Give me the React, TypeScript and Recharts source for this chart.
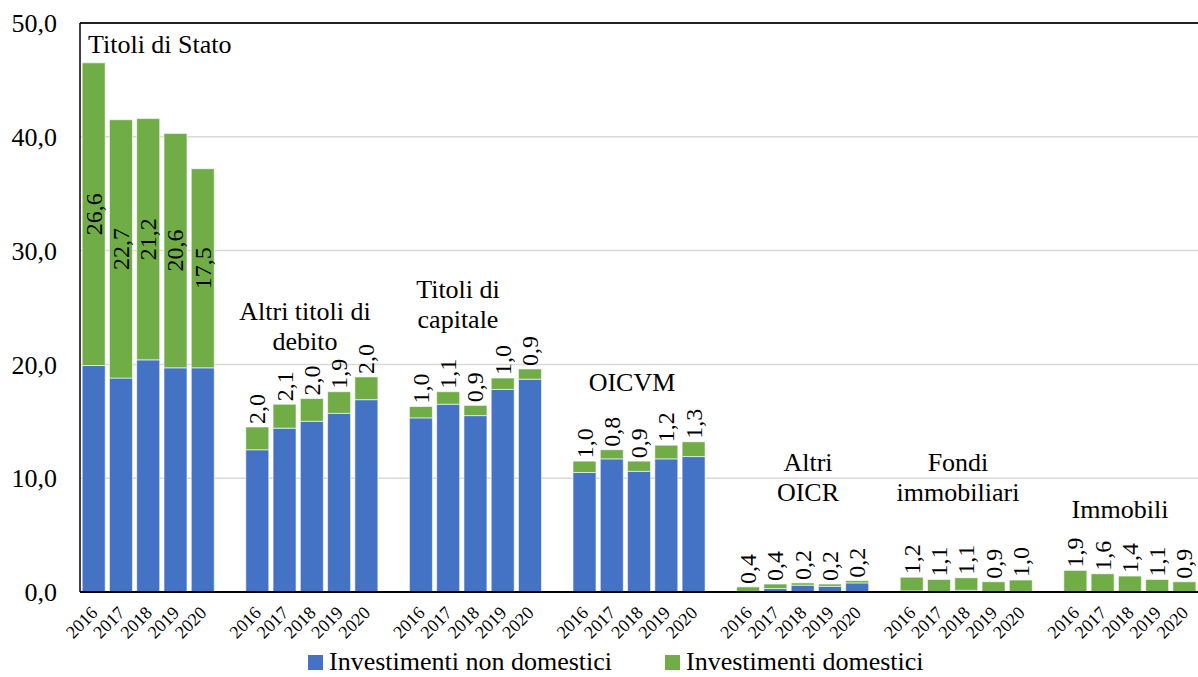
import {
  BarChart,
  Bar,
  XAxis,
  YAxis,
  CartesianGrid,
  ReferenceLine,
  LabelList,
  Legend,
} from 'recharts';

const YEARS = ['2016', '2017', '2018', '2019', '2020'];

const GROUPS = [
  'Titoli di Stato',
  'Altri titoli di debito',
  'Titoli di capitale',
  'OICVM',
  'Altri OICR',
  'Fondi immobiliari',
  'Immobili',
];

// investimenti non domestici, per gruppo e anno
const NON_DOMESTIC = [
  [19.9, 18.8, 20.4, 19.7, 19.7],
  [12.5, 14.4, 15.0, 15.7, 16.9],
  [15.3, 16.5, 15.5, 17.8, 18.7],
  [10.5, 11.7, 10.6, 11.7, 11.9],
  [0.05, 0.3, 0.6, 0.5, 0.8],
  [0.1, 0.0, 0.15, 0.0, 0.05],
  [0, 0, 0, 0, 0],
];

// investimenti domestici (valori etichettati)
const DOMESTIC = [
  [26.6, 22.7, 21.2, 20.6, 17.5],
  [2.0, 2.1, 2.0, 1.9, 2.0],
  [1.0, 1.1, 0.9, 1.0, 0.9],
  [1.0, 0.8, 0.9, 1.2, 1.3],
  [0.4, 0.4, 0.2, 0.2, 0.2],
  [1.2, 1.1, 1.1, 0.9, 1.0],
  [1.9, 1.6, 1.4, 1.1, 0.9],
];

const Y_TICKS = [0, 10, 20, 30, 40, 50];

const FONT = '"Liberation Serif", "Times New Roman", serif';
const BLUE = '#4472C4';
const GREEN = '#70AD47';

type Row = { key: string; year: string; nonDom: number | null; dom: number | null };

const rows: Row[] = [];
GROUPS.forEach((g, gi) => {
  YEARS.forEach((yr, yi) => {
    rows.push({ key: `${gi}-${yr}`, year: yr, nonDom: NON_DOMESTIC[gi][yi], dom: DOMESTIC[gi][yi] });
  });
  if (gi < GROUPS.length - 1) {
    rows.push({ key: `gap-${gi}`, year: '', nonDom: null, dom: null });
  }
});

const yearByKey: Record<string, string> = {};
rows.forEach((r) => (yearByKey[r.key] = r.year));

const fmt = (v: number) => v.toFixed(1).replace('.', ',');

const renderDomLabel = (props: any) => {
  const { x, y, width, height, value } = props;
  if (value == null) return null;
  const cx = Number(x) + Number(width) / 2;
  const inside = Number(height) > 60;
  const ty = inside ? Number(y) + Number(height) / 2 : Number(y) - 3;
  return (
    <text
      x={cx}
      y={ty}
      transform={`rotate(-90 ${cx} ${ty})`}
      textAnchor={inside ? 'middle' : 'start'}
      dominantBaseline="central"
      style={{ fontFamily: FONT, fontSize: 24 }}
      fill="#000"
    >
      {fmt(value)}
    </text>
  );
};

const YearTick = (props: any) => {
  const { x, y, payload } = props;
  const label = yearByKey[payload.value];
  if (!label) return <g />;
  const tx = x + 5;
  const ty = y + 14;
  return (
    <text
      x={tx}
      y={ty}
      transform={`rotate(-45 ${tx} ${ty})`}
      textAnchor="end"
      style={{ fontFamily: FONT, fontSize: 18 }}
      fill="#000"
    >
      {label}
    </text>
  );
};

const LegendContent = () => (
  <div style={{ position: 'relative', height: 30, fontFamily: FONT, fontSize: 26, lineHeight: '30px' }}>
    <div style={{ position: 'absolute', left: 308, top: 0, display: 'flex', alignItems: 'center' }}>
      <span style={{ width: 15, height: 15, background: BLUE, display: 'inline-block', marginRight: 6 }} />
      <span>Investimenti non domestici</span>
    </div>
    <div style={{ position: 'absolute', left: 665, top: 0, display: 'flex', alignItems: 'center' }}>
      <span style={{ width: 15, height: 15, background: GREEN, display: 'inline-block', marginRight: 6 }} />
      <span>Investimenti domestici</span>
    </div>
  </div>
);

// titoli dei gruppi
const TITLES = [
  { lines: ['Titoli di Stato'], left: 88, top: 30, align: 'left' as const },
  { lines: ['Altri titoli di', 'debito'], cx: 305, top: 297 },
  { lines: ['Titoli di', 'capitale'], cx: 458, top: 275 },
  { lines: ['OICVM'], cx: 632, top: 368 },
  { lines: ['Altri', 'OICR'], cx: 808, top: 448 },
  { lines: ['Fondi', 'immobiliari'], cx: 958, top: 448 },
  { lines: ['Immobili'], cx: 1120, top: 495 },
];

const App = () => {
  return (
    <div style={{ position: 'absolute', left: 0, top: 0, width: 1198, height: 677, background: '#fff' }}>
      <BarChart
        width={1198}
        height={677}
        data={rows}
        margin={{ top: 23, right: 0, left: 0, bottom: 0 }}
        barCategoryGap="8%"
      >
        <CartesianGrid vertical={false} stroke="#d9d9d9" strokeWidth={1.5} />
        <XAxis
          dataKey="key"
          interval={0}
          tickLine={false}
          axisLine={{ stroke: '#000', strokeWidth: 2 }}
          tick={<YearTick />}
          height={55}
        />
        <YAxis
          domain={[0, 50]}
          ticks={Y_TICKS}
          tickFormatter={fmt}
          tickLine={false}
          tickSize={0}
          tickMargin={23}
          axisLine={{ stroke: '#000', strokeWidth: 1.5 }}
          tick={{ fill: '#000', fontSize: 26, fontFamily: FONT }}
          width={80}
        />
        <ReferenceLine y={50} stroke="#222" strokeWidth={2} />
        <Bar dataKey="nonDom" stackId="a" fill={BLUE} stroke="#ffffff" strokeOpacity={0.6} strokeWidth={1} isAnimationActive={false} />
        <Bar dataKey="dom" stackId="a" fill={GREEN} stroke="#ffffff" strokeOpacity={0.6} strokeWidth={1} isAnimationActive={false}>
          <LabelList dataKey="dom" content={renderDomLabel} />
        </Bar>
        <Legend verticalAlign="bottom" height={30} content={<LegendContent />} wrapperStyle={{ left: 0, width: 1198 }} />
      </BarChart>
      {TITLES.map((t, i) => (
        <div
          key={i}
          style={{
            position: 'absolute',
            top: t.top,
            left: t.align === 'left' ? t.left : (t.cx as number) - 100,
            width: t.align === 'left' ? undefined : 200,
            textAlign: t.align === 'left' ? 'left' : 'center',
            fontFamily: FONT,
            fontSize: 26,
            lineHeight: '30px',
            color: '#000',
            whiteSpace: 'nowrap',
            pointerEvents: 'none',
          }}
        >
          {t.lines.map((l, j) => (
            <div key={j}>{l}</div>
          ))}
        </div>
      ))}
    </div>
  );
};

export default App;
